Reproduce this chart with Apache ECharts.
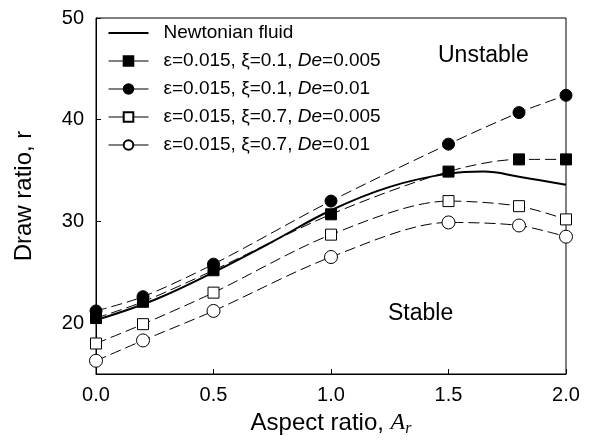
<!DOCTYPE html>
<html>
<head>
<meta charset="utf-8">
<script src="https://cdn.jsdelivr.net/npm/echarts@6/dist/echarts.min.js"></script>
<style>html,body{margin:0;padding:0;background:#fff}#c{width:590px;height:443px}</style>
</head>
<body>
<div id="c"></div>
<script>
// ---- data ----
const xVals = [0, 0.2, 0.5, 1.0, 1.5, 1.8, 2.0];
const newtonX = [0, 0.25, 0.5, 0.75, 1.0, 1.25, 1.5, 1.65, 1.8, 2.0];
const newtonY = [20.3, 22.3, 25.0, 28.0, 31.1, 33.4, 34.7, 34.9, 34.4, 33.6];
const sqFilled = [20.5, 22.1, 25.2, 30.7, 34.9, 36.1, 36.1];
const ciFilled = [21.2, 22.6, 25.8, 32.0, 37.6, 40.7, 42.4];
const sqOpen   = [18.0, 19.9, 23.0, 28.7, 32.0, 31.5, 30.2];
const ciOpen   = [16.3, 18.3, 21.2, 26.5, 29.9, 29.6, 28.5];
const seriesNames = [
  'Newtonian fluid',
  'ε=0.015, ξ=0.1, De=0.005',
  'ε=0.015, ξ=0.1, De=0.01',
  'ε=0.015, ξ=0.7, De=0.005',
  'ε=0.015, ξ=0.7, De=0.01'
];
const xTicks = [0, 0.5, 1.0, 1.5, 2.0];
const yTicks = [20, 30, 40, 50];

const FONT = 'Liberation Sans';
const pair = (xs, ys) => xs.map((x, i) => [x, ys[i]]);

function dashed(name, ys, symbol, filled, size) {
  return {
    name, type: 'line', data: pair(xVals, ys), smooth: 0.3, clip: false,
    symbol, symbolSize: size, showSymbol: true,
    lineStyle: { color: '#000', width: 1, type: [11, 5] },
    itemStyle: { color: filled ? '#000' : '#fff', borderColor: '#000', borderWidth: 1 },
    z: 3
  };
}

const legendData = seriesNames.map((n, i) => i === 0
  ? { name: n, icon: 'path://M0,0 H40 V2 H0 Z', itemStyle: { color: '#000' } }
  : { name: n });

const chart = echarts.init(document.getElementById('c'));
chart.setOption({
  animation: false,
  backgroundColor: '#fff',
  textStyle: { fontFamily: FONT },
  grid: { left: 96, right: 24, top: 18, bottom: 69, show: true, borderColor: '#000', borderWidth: 1 },
  legend: {
    orient: 'vertical', left: 103, top: 18, itemWidth: 40, itemHeight: 12, itemGap: 8,
    data: legendData,
    lineStyle: { type: 'solid', width: 1 },
    textStyle: { fontFamily: FONT, fontSize: 19, color: '#000', lineHeight: 20, padding: [0, 0, 0, 10],
      rich: { i: { fontFamily: FONT, fontSize: 19, fontStyle: 'italic', color: '#000' } } },
    formatter: n => n.replace('De', '{i|De}')
  },
  xAxis: {
    type: 'value', min: 0, max: 2, interval: 0.5,
    axisLine: { lineStyle: { color: '#000', width: 1 } },
    axisTick: { inside: true, length: 5, lineStyle: { color: '#000' }, customValues: xTicks },
    axisLabel: { customValues: xTicks, formatter: v => v.toFixed(1), fontSize: 20, color: '#000', margin: 11, fontFamily: FONT },
    splitLine: { show: false },
    name: '{n|Aspect ratio, }{i|A}{s|r}', nameLocation: 'middle', nameGap: 35,
    nameTextStyle: { fontFamily: FONT, fontSize: 24, color: '#000',
      rich: {
        n: { fontFamily: FONT, fontSize: 24, color: '#000' },
        i: { fontFamily: 'Liberation Serif', fontSize: 24, fontStyle: 'italic', color: '#000' },
        s: { fontFamily: 'Liberation Serif', fontSize: 16, fontStyle: 'italic', color: '#000', padding: [12, 0, 0, 0] }
      } }
  },
  yAxis: {
    type: 'value', min: 15, max: 50, interval: 5,
    axisLine: { lineStyle: { color: '#000', width: 1 } },
    axisTick: { inside: true, length: 5, lineStyle: { color: '#000' }, customValues: yTicks },
    axisLabel: { customValues: yTicks, fontSize: 20, color: '#000', margin: 12, fontFamily: FONT },
    splitLine: { show: false },
    name: 'Draw ratio, r', nameLocation: 'middle', nameGap: 60,
    nameTextStyle: { fontFamily: FONT, fontSize: 24, color: '#000' }
  },
  graphic: [
    { type: 'text', left: 438, top: 44, style: { text: 'Unstable', fontFamily: FONT, fontSize: 23, fill: '#000' } },
    { type: 'text', left: 388, top: 302, style: { text: 'Stable', fontFamily: FONT, fontSize: 23, fill: '#000' } }
  ],
  series: [
    { name: seriesNames[0], type: 'line', data: pair(newtonX, newtonY), smooth: 0.4, clip: false,
      symbol: 'none', lineStyle: { color: '#000', width: 2 }, itemStyle: { color: '#000' }, z: 2 },
    dashed(seriesNames[1], sqFilled, 'rect', true, 11),
    dashed(seriesNames[2], ciFilled, 'circle', true, 12),
    dashed(seriesNames[3], sqOpen, 'rect', false, 11),
    dashed(seriesNames[4], ciOpen, 'circle', false, 13)
  ]
});
</script>
</body>
</html>
